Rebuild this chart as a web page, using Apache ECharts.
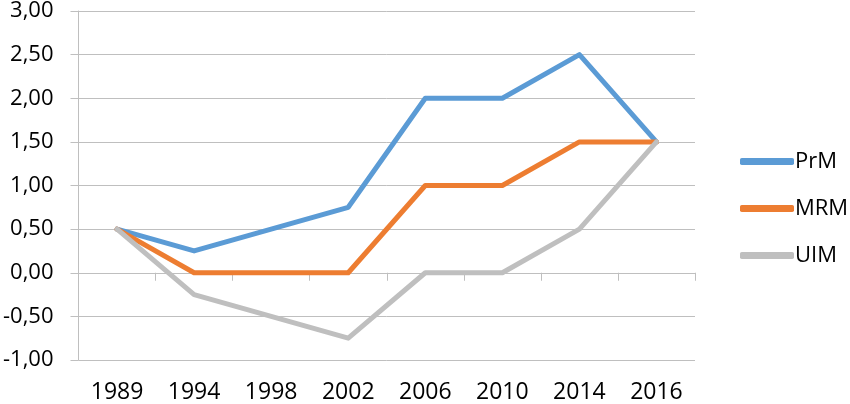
<!DOCTYPE html>
<html>
<head>
<meta charset="utf-8">
<script src="https://cdn.jsdelivr.net/npm/echarts@6/dist/echarts.min.js"></script>
<style>
html,body{margin:0;padding:0;background:#fff;}
#chart{width:850px;height:404px;}
</style>
</head>
<body>
<div id="chart"></div>
<script>
const categories = ['1989','1994','1998','2002','2006','2010','2014','2016'];
const seriesNames = ['PrM','MRM','UIM'];
const prmValues = [0.5, 0.25, 0.5, 0.75, 2.0, 2.0, 2.5, 1.5];
const mrmValues = [0.5, 0.0, 0.0, 0.0, 1.0, 1.0, 1.5, 1.5];
const uimValues = [0.5, -0.25, -0.5, -0.75, 0.0, 0.0, 0.5, 1.5];
const seriesColors = ['#5B9BD5', '#ED7D31', '#BFBFBF'];

const font = 'Open Sans';
const chart = echarts.init(document.getElementById('chart'), null, {renderer:'canvas'});

function lineSeries(name, data, color) {
  return {
    name: name, type: 'line', data: data, xAxisIndex: 0,
    symbol: 'none', smooth: false,
    lineStyle: {color: color, width: 5, cap: 'round', join: 'round'},
    itemStyle: {color: color},
    emphasis: {disabled: true}
  };
}

chart.setOption({
  animation: false,
  backgroundColor: '#fff',
  grid: {left: 78, right: 155, top: 9, bottom: 43, containLabel: false},
  legend: {
    orient: 'vertical', left: 735, top: 145,
    data: seriesNames,
    icon: 'roundRect', itemWidth: 54, itemHeight: 7, itemGap: 24,
    textStyle: {fontFamily: font, fontSize: 22, color: '#000', lineHeight: 23, padding: [0,0,0,-4]}
  },
  xAxis: [{
    type: 'category', data: categories, boundaryGap: true, position: 'bottom',
    axisLine: {show: false, onZero: false},
    axisTick: {show: false},
    splitLine: {show: false},
    axisLabel: {fontFamily: font, fontSize: 23, color: '#000', margin: 21}
  },{
    type: 'category', data: categories, boundaryGap: true, position: 'bottom',
    axisLine: {show: true, onZero: true, lineStyle: {color: '#BFBFBF', width: 1}},
    axisTick: {show: true, length: 8, alignWithLabel: false, lineStyle: {color: '#BFBFBF'}},
    axisLabel: {show: false},
    splitLine: {show: false}
  }],
  yAxis: {
    type: 'value', min: -1, max: 3, interval: 0.5,
    axisLine: {show: true, lineStyle: {color: '#BFBFBF', width: 1}},
    axisTick: {show: true, length: 8, lineStyle: {color: '#BFBFBF'}},
    splitLine: {show: true, lineStyle: {color: '#BFBFBF', width: 1}},
    axisLabel: {
      fontFamily: font, fontSize: 22, color: '#000', margin: 25,
      formatter: v => v.toFixed(2).replace('.', ',')
    }
  },
  series: [
    lineSeries(seriesNames[0], prmValues, seriesColors[0]),
    lineSeries(seriesNames[1], mrmValues, seriesColors[1]),
    lineSeries(seriesNames[2], uimValues, seriesColors[2])
  ]
});
</script>
</body>
</html>
